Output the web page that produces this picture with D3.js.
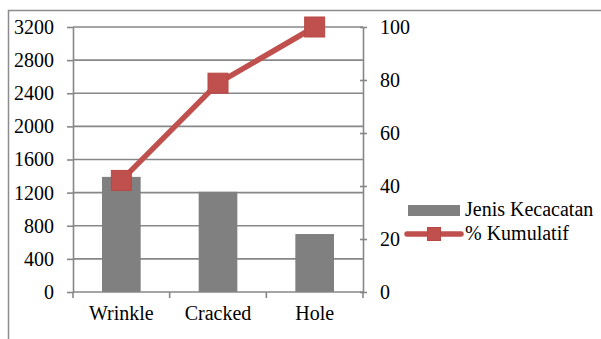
<!DOCTYPE html>
<html>
<head>
<meta charset="utf-8">
<script src="https://cdn.jsdelivr.net/npm/d3@7"></script>
</head>
<body style="margin:0">
<svg id="chart" width="601" height="339"></svg>
<script>
// Defect types (Pareto order)
const categories = ["Wrinkle", "Cracked", "Hole"];
// Count per defect type
const defectCounts = [1390, 1210, 700];
// Cumulative percentage
const cumulativePct = [42.1, 78.8, 100];
// Axis ticks
const leftTicks = [0, 400, 800, 1200, 1600, 2000, 2400, 2800, 3200];
const rightTicks = [0, 20, 40, 60, 80, 100];
// Legend entries
const legendLabels = ["Jenis Kecacatan", "% Kumulatif"];

const serif = "Liberation Serif";
const svg = d3.select("#chart");
const plot = { left: 73, right: 363, top: 27, bottom: 292 };
const gridColor = "#878787";
const barColor = "#808080";
const lineColor = "#c0504d";

// Outer chart frame
svg.append("path")
  .attr("d", "M8.5,340 L8.5,10.5 L605,10.5")
  .attr("fill", "none").attr("stroke", "#8c8c8c").attr("stroke-width", 1.5);

const x = d3.scaleBand().domain(categories).range([plot.left, plot.right]).paddingInner(0.6).paddingOuter(0.3);
const xBand = d3.scaleBand().domain(categories).range([plot.left, plot.right]);
const yL = d3.scaleLinear().domain([0, 3200]).range([plot.bottom, plot.top]);
const yR = d3.scaleLinear().domain([0, 100]).range([plot.bottom, plot.top]);

// Horizontal gridlines
svg.append("g").selectAll("line").data(leftTicks.slice(1)).join("line")
  .attr("x1", plot.left).attr("x2", plot.right)
  .attr("y1", d => yL(d)).attr("y2", d => yL(d))
  .attr("stroke", gridColor).attr("stroke-width", 1.6);

// Bars
svg.append("g").selectAll("rect").data(defectCounts).join("rect")
  .attr("x", (d, i) => x(categories[i]))
  .attr("width", x.bandwidth())
  .attr("y", d => yL(d))
  .attr("height", d => yL(0) - yL(d))
  .attr("fill", barColor);

// Left axis
const leftAxis = svg.append("g").attr("transform", `translate(${plot.left},0)`)
  .call(d3.axisLeft(yL).tickValues(leftTicks).tickFormat(d3.format("d")).tickSize(6).tickPadding(14).tickSizeOuter(0));
// Right axis
const rightAxis = svg.append("g").attr("transform", `translate(${plot.right},0)`)
  .call(d3.axisRight(yR).tickValues(rightTicks).tickFormat(d3.format("d")).tickSize(6).tickPadding(14).tickSizeOuter(0));
// Bottom axis with ticks at category boundaries
const bottomAxis = svg.append("g").attr("transform", `translate(0,${plot.bottom})`)
  .call(d3.axisBottom(xBand).tickSize(0).tickPadding(24).tickSizeOuter(0));
svg.append("g").selectAll("line")
  .data(categories.map(c => xBand(c)).concat([plot.right]))
  .join("line")
  .attr("x1", d => d).attr("x2", d => d)
  .attr("y1", plot.bottom).attr("y2", plot.bottom + 6)
  .attr("stroke", gridColor).attr("stroke-width", 1.6);

[leftAxis, rightAxis, bottomAxis].forEach(g => {
  g.attr("font-family", serif).attr("font-size", 20);
  g.select(".domain").attr("stroke", gridColor).attr("stroke-width", 1.6);
  g.selectAll(".tick line").attr("stroke", gridColor).attr("stroke-width", 1.6);
});
leftAxis.selectAll(".tick line").attr("x2", -6).attr("x1", 0);
rightAxis.selectAll(".tick line").attr("x1", -3).attr("x2", 4);
leftAxis.selectAll(".tick text").attr("x", -19);
rightAxis.selectAll(".tick text").attr("x", 17);
bottomAxis.selectAll(".tick text").attr("dy", "0.71em").attr("y", 14);
// Bottom domain spans the whole plot width
bottomAxis.select(".domain").attr("d", `M${plot.left},0H${plot.right}`);

// Cumulative line
const cx = (d, i) => xBand(categories[i]) + xBand.bandwidth() / 2;
svg.append("path")
  .datum(cumulativePct)
  .attr("d", d3.line().x(cx).y(d => yR(d)))
  .attr("fill", "none").attr("stroke", lineColor).attr("stroke-width", 5.5)
  .attr("stroke-linejoin", "round");

const mk = 20;
svg.append("g").selectAll("rect").data(cumulativePct).join("rect")
  .attr("x", (d, i) => cx(d, i) - mk / 2)
  .attr("y", d => yR(d) - mk / 2)
  .attr("width", mk).attr("height", mk)
  .attr("fill", lineColor).attr("stroke", "#b94845").attr("stroke-width", 1);

// Legend
const lg = svg.append("g");
lg.append("rect").attr("x", 408).attr("y", 205).attr("width", 52).attr("height", 11).attr("fill", barColor);
lg.append("line").attr("x1", 407).attr("x2", 461).attr("y1", 234).attr("y2", 234)
  .attr("stroke", lineColor).attr("stroke-width", 5.5).attr("stroke-linecap", "round");
lg.append("rect").attr("x", 427.5).attr("y", 227.5).attr("width", 13).attr("height", 13)
  .attr("fill", lineColor).attr("stroke", "#b94845").attr("stroke-width", 1);
lg.selectAll("text").data(legendLabels).join("text")
  .attr("x", 465).attr("y", (d, i) => 216 + i * 24)
  .attr("font-family", serif).attr("font-size", 20)
  .text(d => d);

// Typeface for every label in the chart
svg.selectAll("text").attr("fill", "#000").attr("font-family", serif).attr("font-size", 20);
</script>
</body>
</html>
